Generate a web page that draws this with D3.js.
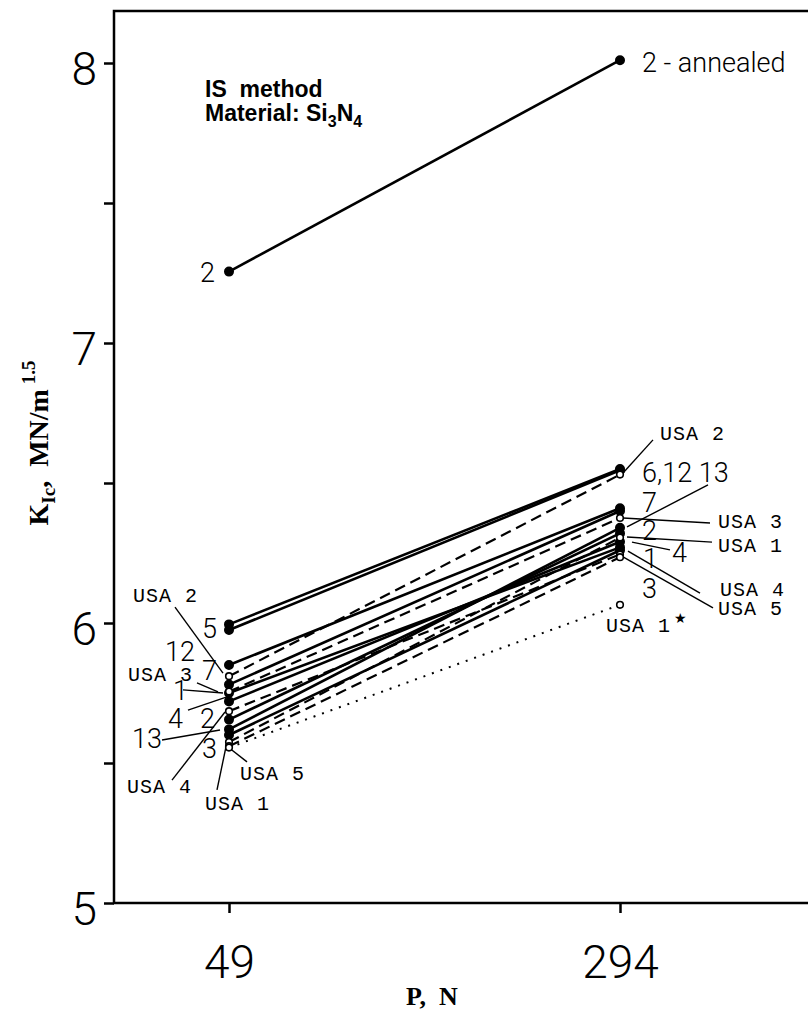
<!DOCTYPE html>
<html>
<head>
<meta charset="utf-8">
<script src="https://cdn.jsdelivr.net/npm/d3@7"></script>
<style>
  body { margin: 0; background: #fff; }
  svg { display: block; }
</style>
</head>
<body>
<script>
// data: K_Ic at the two loads for each lab
const loads = [49, 294];
const labs = ["2 annealed", "6", "5", "12", "7", "1", "4", "2", "13", "3",
  "USA 2", "USA 3", "USA 4", "USA 1", "USA 5", "USA 1*"];
const groups = ["JP", "JP", "JP", "JP", "JP", "JP", "JP", "JP", "JP", "JP",
  "USA", "USA", "USA", "USA", "USA", "USA*"];
const k49 = [7.255, 5.995, 5.975, 5.85, 5.78, 5.75, 5.72, 5.655, 5.62, 5.6,
  5.81, 5.755, 5.685, 5.575, 5.56, 5.555];
const k294 = [8.01, 6.55, 6.545, 6.41, 6.4, 6.27, 6.29, 6.32, 6.34, 6.26,
  6.53, 6.375, 6.245, 6.305, 6.235, 6.065];
const yTicks = [5, 5.5, 6, 6.5, 7, 7.5, 8];

// annotation layout: [text, load index, dx px, K at baseline, font]
const notes = [
  ["2", 0, -29, 7.218, "num"],
  ["2 - annealed", 1, 22, 7.968, "num"],
  ["USA 2", 0, -96, 6.075, "mono"],
  ["5", 0, -27, 5.946, "num"],
  ["12", 0, -64, 5.865, "num"],
  ["USA 3", 0, -101, 5.793, "mono"],
  ["7", 0, -27, 5.796, "num"],
  ["1", 0, -56, 5.725, "num"],
  ["4", 0, -61, 5.625, "num"],
  ["2", 0, -29, 5.625, "num"],
  ["13", 0, -97, 5.554, "num"],
  ["3", 0, -27, 5.518, "num"],
  ["USA 5", 0, 11, 5.439, "mono"],
  ["USA 4", 0, -102, 5.393, "mono"],
  ["USA 1", 0, -24, 5.332, "mono"],
  ["USA 2", 1, 40, 6.654, "mono"],
  ["6,12 13", 1, 22, 6.504, "num"],
  ["7", 1, 22, 6.396, "num"],
  ["USA 3", 1, 98, 6.339, "mono"],
  ["2", 1, 22, 6.296, "num"],
  ["USA 1", 1, 98, 6.254, "mono"],
  ["4", 1, 52, 6.218, "num"],
  ["1", 1, 23, 6.196, "num"],
  ["3", 1, 22, 6.089, "num"],
  ["USA 4", 1, 100, 6.095, "mono"],
  ["USA 5", 1, 98, 6.029, "mono"],
  ["USA 1", 1, -14, 5.968, "mono"]
];
// leader lines: [load index, dx1, K1, dx2, K2]
const leaders = [
  [0, -54, 6.057, -6, 5.821],
  [0, -32, 5.786, -11, 5.754],
  [0, -46, 5.761, -6, 5.75],
  [0, -41, 5.689, -2, 5.736],
  [0, -57, 5.439, -4, 5.682],
  [0, -67, 5.582, -9, 5.618],
  [0, 18, 5.504, -1, 5.557],
  [0, -12, 5.404, -2, 5.575],
  [1, 33, 6.654, 3, 6.536],
  [1, 88, 6.493, 7, 6.343],
  [1, 90, 6.357, 3, 6.375],
  [1, 92, 6.289, 7, 6.307],
  [1, 50, 6.261, 12, 6.289],
  [1, 80, 6.107, 8, 6.257],
  [1, 93, 6.054, 3, 6.236]
];

const W = 808, H = 1016;
const plot = { left: 114, right: 808, top: 11, bottom: 903 };
const numFont = "Roboto, 'DejaVu Sans', sans-serif";
const monoFont = "'Liberation Mono', 'DejaVu Sans Mono', monospace";

const x = d3.scaleLinear().domain(loads).range([229, 620]);
const y = d3.scaleLinear().domain([5, 8]).range([plot.bottom, 63]);

const svg = d3.select("body").append("svg")
  .attr("width", W).attr("height", H)
  .style("background", "#fff");

//frame: left, top and bottom lines
svg.append("path")
  .attr("d", `M${plot.right},${plot.top}H${plot.left}V${plot.bottom}H${plot.right}`)
  .attr("fill", "none").attr("stroke", "#000").attr("stroke-width", 2.5);

//y axis ticks
const yAxis = svg.append("g")
  .attr("transform", `translate(${plot.left},0)`)
  .call(d3.axisLeft(y).tickValues(yTicks).tickSize(10).tickPadding(7)
    .tickFormat(d => Number.isInteger(d) ? d : ""));
yAxis.select(".domain").remove();
yAxis.selectAll("line").attr("stroke-width", 2.5);
yAxis.selectAll("text")
  .attr("dy", "0.46em")
  .style("font-family", numFont).style("font-weight", 300)
  .style("font-size", "46px").attr("fill", "#000");

//x axis ticks
const xAxis = svg.append("g")
  .attr("transform", `translate(0,${plot.bottom})`)
  .call(d3.axisBottom(x).tickValues(loads).tickSize(10).tickPadding(32));
xAxis.select(".domain").remove();
xAxis.selectAll("line").attr("stroke-width", 2.5);
xAxis.selectAll("text")
  .attr("dy", "0.71em")
  .style("font-family", numFont).style("font-weight", 300)
  .style("font-size", "46px").attr("fill", "#000");

//axis titles
svg.append("text")
  .attr("x", 432).attr("y", 1005)
  .attr("text-anchor", "middle")
  .style("font-family", "'Liberation Serif', serif").style("font-weight", "bold")
  .style("font-size", "26px")
  .attr("xml:space", "preserve")
  .text("P,  N");

const yTitle = svg.append("text")
  .attr("transform", "translate(48,443) rotate(-90)")
  .attr("text-anchor", "middle")
  .style("font-family", "'Liberation Serif', serif").style("font-weight", "bold")
  .style("font-size", "28px");
yTitle.append("tspan").text("K");
yTitle.append("tspan").attr("dy", 7).style("font-size", "19px").text("Ic");
yTitle.append("tspan").attr("dy", -7).attr("xml:space", "preserve").text(",  MN/m");
yTitle.append("tspan").attr("dy", -13).style("font-size", "19px").text(" 1.5");

//method title
const title = svg.append("g").style("font-family", "'Liberation Sans', Arial, sans-serif")
  .style("font-weight", "bold").style("font-size", "23px");
title.append("text").attr("x", 205).attr("y", 97)
  .attr("xml:space", "preserve").text("IS  method");
const mat = title.append("text").attr("x", 205).attr("y", 121);
mat.append("tspan").text("Material: Si");
mat.append("tspan").attr("dy", 6).style("font-size", "16px").text("3");
mat.append("tspan").attr("dy", -6).text("N");
mat.append("tspan").attr("dy", 6).style("font-size", "16px").text("4");

//series lines
const rows = labs.map((name, i) => ({
  name, group: groups[i],
  pts: [[loads[0], k49[i]], [loads[1], k294[i]]]
}));

const line = d3.line().x(d => x(d[0])).y(d => y(d[1]));
const dash = { JP: null, USA: "11,6", "USA*": "2,7" };
const lw = { JP: 2.6, USA: 2.2, "USA*": 2 };

svg.append("g").selectAll("path")
  .data(rows).enter().append("path")
  .attr("d", d => line(d.pts))
  .attr("fill", "none").attr("stroke", "#000")
  .attr("stroke-width", d => lw[d.group])
  .attr("stroke-dasharray", d => dash[d.group]);

//leader lines
svg.append("g").selectAll("line")
  .data(leaders).enter().append("line")
  .attr("x1", d => x(loads[d[0]]) + d[1]).attr("y1", d => y(d[2]))
  .attr("x2", d => x(loads[d[0]]) + d[3]).attr("y2", d => y(d[4]))
  .attr("stroke", "#000").attr("stroke-width", 1.4);

//end points
const dots = rows.flatMap(r => r.pts.map(p => ({ p, group: r.group })));
svg.append("g").selectAll("circle")
  .data(dots).enter().append("circle")
  .attr("cx", d => x(d.p[0])).attr("cy", d => y(d.p[1]))
  .attr("r", d => d.group === "JP" ? 4.2 : 3.3)
  .attr("fill", d => d.group === "JP" ? "#000" : "#fff")
  .attr("stroke", "#000").attr("stroke-width", 1.6);

//annotations
svg.append("g").selectAll("text")
  .data(notes).enter().append("text")
  .attr("x", d => x(loads[d[1]]) + d[2]).attr("y", d => y(d[3]))
  .attr("xml:space", "preserve")
  .style("font-family", d => d[4] === "mono" ? monoFont : numFont)
  .style("font-weight", d => d[4] === "mono" ? "normal" : 300)
  .style("font-size", d => d[4] === "mono" ? "20px" : "27px")
  .style("letter-spacing", d => d[4] === "mono" ? "1px" : null)
  .text(d => d[0]);

//star for USA 1*
svg.append("text")
  .attr("x", x(loads[1]) + 54).attr("y", y(5.968) - 9)
  .style("font-family", "'DejaVu Sans', sans-serif").style("font-size", "14px")
  .text("\u2605");
</script>
</body>
</html>
